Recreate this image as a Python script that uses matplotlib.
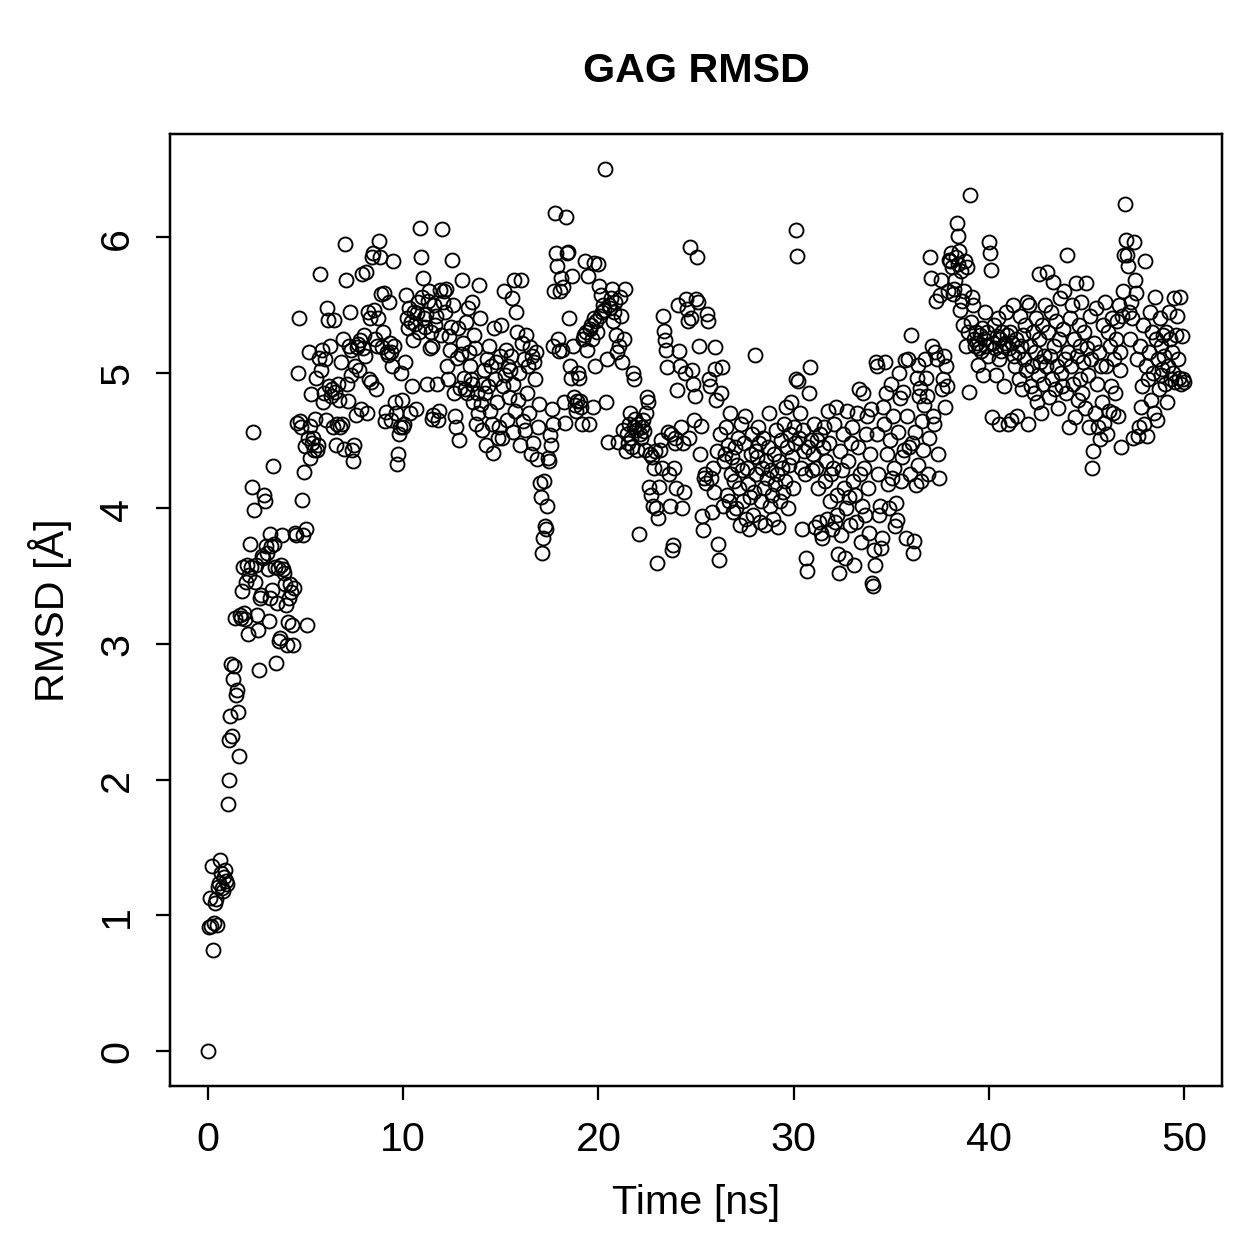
import numpy as np
import matplotlib
matplotlib.use("Agg")
import matplotlib.pyplot as plt

plt.rcParams['font.family'] = ['Liberation Sans', 'DejaVu Sans']

# RMSD values, 20 frames per ns (0.05 ns steps), one row per ns
rmsd_rows = [
    [0.00, 0.91, 1.13, 0.92, 1.36, 0.74, 0.94, 1.09, 1.12, 0.93, 1.21, 1.24, 1.41, 1.31, 1.20, 1.18, 1.28, 1.33, 1.25, 1.23],
    [1.82, 2.00, 2.29, 2.47, 2.85, 2.32, 2.74, 2.84, 3.19, 2.62, 2.66, 2.50, 2.17, 3.21, 3.19, 3.39, 3.57, 3.23, 3.18, 3.46],
    [3.58, 3.07, 3.51, 3.74, 3.57, 4.16, 4.56, 3.99, 3.46, 3.58, 3.21, 3.10, 2.81, 3.34, 3.36, 3.65, 3.63, 4.10, 4.05, 3.72],
    [3.67, 3.55, 3.17, 3.34, 3.81, 3.72, 3.40, 4.31, 3.74, 3.57, 2.86, 3.30, 3.56, 3.02, 3.04, 3.58, 3.80, 3.55, 3.52, 3.44],
    [3.29, 2.99, 3.16, 3.34, 3.44, 3.38, 3.14, 2.99, 3.41, 3.82, 3.80, 4.63, 5.00, 5.40, 4.64, 4.60, 4.06, 3.80, 4.27, 4.46],
    [3.85, 3.14, 4.52, 5.15, 4.37, 4.61, 4.84, 4.48, 4.52, 4.43, 4.66, 4.96, 4.43, 4.47, 5.11, 5.73, 5.02, 5.17, 4.78, 4.85],
    [5.10, 4.65, 5.48, 5.39, 4.90, 5.20, 4.83, 4.88, 4.60, 5.39, 4.86, 4.47, 4.62, 4.92, 4.80, 4.60, 5.08, 4.62, 5.25, 4.44],
    [5.95, 5.68, 4.92, 4.79, 5.20, 5.45, 4.98, 5.17, 4.43, 4.35, 4.47, 5.05, 4.69, 5.19, 5.21, 5.02, 5.24, 4.73, 5.73, 5.18],
    [5.28, 5.12, 5.74, 4.70, 5.45, 4.95, 5.40, 4.93, 5.85, 5.88, 5.46, 5.25, 4.88, 5.20, 5.40, 5.97, 5.85, 5.58, 5.19, 5.30],
    [5.59, 4.64, 4.71, 5.15, 5.13, 5.52, 5.22, 4.65, 5.15, 5.05, 5.82, 5.20, 4.78, 4.70, 4.33, 4.40, 4.55, 4.60, 5.00, 4.80],
    [4.60, 4.62, 5.08, 5.57, 5.40, 5.33, 5.48, 4.70, 5.37, 4.90, 5.24, 5.45, 5.36, 4.73, 5.44, 5.52, 5.30, 6.07, 5.85, 5.56],
    [5.70, 5.40, 5.34, 5.43, 4.92, 5.53, 5.60, 5.18, 5.30, 5.20, 4.66, 4.69, 5.50, 5.35, 5.42, 4.92, 4.65, 4.72, 5.61, 5.28],
    [6.06, 5.52, 5.60, 5.45, 5.62, 5.05, 4.95, 5.27, 5.17, 5.34, 5.83, 5.50, 4.85, 4.68, 4.60, 5.11, 5.33, 4.50, 4.89, 5.14],
    [5.68, 5.22, 4.96, 4.88, 5.37, 4.85, 5.48, 5.15, 5.05, 4.95, 5.52, 4.92, 4.78, 5.28, 5.18, 4.62, 4.85, 4.70, 5.65, 5.40],
    [4.77, 4.58, 4.92, 5.02, 4.85, 4.47, 5.10, 4.90, 5.20, 4.72, 5.05, 4.62, 4.41, 5.33, 4.95, 5.08, 4.78, 4.52, 4.60, 5.12],
    [5.35, 4.52, 4.90, 5.60, 4.98, 5.17, 4.65, 5.05, 4.82, 5.02, 5.12, 5.55, 4.56, 4.92, 5.68, 4.72, 5.45, 5.30, 4.80, 5.00],
    [4.47, 5.68, 5.22, 4.64, 5.10, 4.58, 5.28, 4.85, 5.05, 4.70, 5.19, 4.40, 5.12, 4.48, 5.08, 4.95, 5.15, 4.36, 4.60, 4.77],
    [4.19, 4.08, 3.67, 3.78, 4.20, 3.87, 3.85, 4.02, 4.37, 4.35, 4.54, 4.47, 4.73, 4.62, 5.20, 5.60, 6.18, 5.88, 5.79, 5.25],
    [5.16, 5.60, 5.70, 5.17, 5.63, 4.78, 4.63, 6.15, 5.88, 5.89, 5.40, 5.05, 4.96, 5.71, 5.20, 4.82, 4.76, 4.72, 4.79, 5.00],
    [4.96, 4.79, 4.75, 4.62, 5.25, 5.28, 5.82, 5.30, 5.17, 5.71, 4.62, 5.32, 5.35, 5.25, 4.75, 5.81, 5.40, 5.05, 5.38, 5.30],
    [5.80, 5.64, 5.42, 5.57, 5.45, 5.50, 5.46, 6.50, 4.78, 5.10, 4.49, 5.50, 5.48, 5.55, 5.62, 5.38, 5.45, 5.52, 5.28, 5.15],
    [4.49, 5.20, 5.56, 5.42, 5.08, 4.58, 5.25, 5.62, 4.42, 4.55, 4.48, 4.62, 4.70, 4.52, 4.45, 5.00, 4.95, 4.60, 4.66, 4.58],
    [4.43, 4.62, 3.81, 4.55, 4.52, 4.60, 4.65, 4.57, 4.43, 4.70, 4.82, 4.78, 4.16, 4.40, 4.10, 4.38, 4.02, 4.30, 4.42, 4.00],
    [3.60, 3.93, 4.16, 4.43, 4.50, 4.30, 5.42, 5.31, 5.24, 5.17, 5.04, 4.56, 4.25, 4.02, 4.55, 3.69, 3.73, 4.30, 4.48, 4.52],
    [4.15, 4.87, 5.50, 5.16, 5.05, 4.60, 4.00, 4.48, 4.12, 5.00, 5.54, 5.47, 5.38, 4.52, 5.93, 5.40, 5.02, 4.92, 4.65, 4.83],
    [5.54, 5.85, 5.52, 5.20, 4.40, 4.61, 3.94, 3.84, 4.22, 4.25, 4.19, 5.43, 5.38, 4.95, 4.90, 4.22, 3.97, 4.30, 4.12, 5.19],
    [5.03, 4.80, 4.42, 3.74, 3.62, 4.55, 4.85, 5.04, 4.02, 4.35, 4.40, 4.60, 4.10, 4.47, 4.05, 4.70, 4.25, 4.38, 3.97, 4.20],
    [4.45, 4.00, 4.32, 4.52, 4.15, 3.88, 4.62, 4.28, 4.05, 4.48, 4.68, 3.92, 4.30, 4.18, 3.85, 4.08, 4.40, 4.55, 3.95, 4.12],
    [5.13, 4.42, 4.25, 4.38, 4.60, 4.48, 3.90, 4.05, 4.30, 4.52, 4.15, 3.88, 4.35, 4.22, 4.45, 4.70, 4.02, 4.28, 4.10, 3.92],
    [4.40, 4.18, 4.58, 4.25, 3.86, 4.35, 4.05, 4.50, 4.30, 4.12, 4.62, 4.20, 4.75, 4.45, 4.00, 4.32, 4.55, 4.78, 4.38, 4.15],
    [4.60, 4.48, 4.95, 6.05, 5.86, 4.94, 4.52, 4.70, 4.30, 3.85, 4.58, 4.42, 4.25, 3.63, 3.54, 4.45, 4.85, 5.04, 4.50, 4.28],
    [4.40, 4.62, 3.86, 4.30, 4.50, 4.15, 3.90, 4.55, 3.82, 3.78, 4.45, 4.60, 4.20, 4.35, 3.92, 4.72, 4.48, 4.05, 4.25, 3.85],
    [4.30, 4.62, 3.90, 4.75, 4.10, 3.95, 3.66, 3.52, 4.42, 3.80, 4.28, 4.55, 4.15, 3.63, 4.00, 4.72, 4.35, 4.08, 3.88, 4.48],
    [4.60, 4.20, 3.58, 4.10, 3.90, 4.70, 4.45, 4.88, 4.25, 3.75, 4.02, 4.85, 4.30, 3.95, 4.55, 4.68, 4.15, 3.82, 4.40, 4.73],
    [3.45, 3.43, 3.69, 3.58, 5.08, 5.05, 4.55, 4.25, 3.95, 4.02, 3.71, 3.78, 4.75, 4.62, 5.08, 4.85, 4.40, 4.18, 4.00, 4.50],
    [4.92, 4.22, 4.68, 4.30, 3.87, 4.04, 3.91, 4.56, 5.00, 4.81, 4.20, 4.38, 4.86, 4.43, 5.09, 3.78, 4.68, 5.10, 4.45, 4.25],
    [5.28, 4.48, 3.67, 3.76, 4.56, 4.17, 4.96, 5.06, 4.32, 4.83, 4.89, 4.20, 4.64, 4.43, 4.76, 5.10, 4.96, 4.83, 4.25, 4.52],
    [5.85, 5.70, 5.20, 4.68, 4.62, 5.15, 5.53, 5.10, 4.40, 4.22, 5.57, 5.68, 4.88, 4.95, 5.12, 4.75, 5.05, 4.90, 5.60, 5.83],
    [5.82, 5.88, 5.78, 5.58, 5.62, 5.68, 5.85, 6.10, 5.80, 6.01, 5.90, 5.46, 5.75, 5.53, 5.35, 5.60, 5.82, 5.20, 5.78, 5.30],
    [4.86, 6.31, 5.37, 5.56, 5.50, 5.25, 5.20, 5.30, 5.22, 5.06, 5.18, 5.28, 5.16, 5.33, 4.98, 5.25, 5.45, 5.20, 5.30, 5.12],
    [5.96, 5.88, 5.76, 4.67, 5.22, 5.35, 5.18, 4.98, 5.27, 5.40, 5.10, 4.62, 5.25, 5.16, 5.30, 5.20, 4.90, 5.22, 5.45, 5.28],
    [4.62, 5.18, 5.30, 4.65, 5.22, 5.50, 5.12, 5.05, 5.25, 4.68, 5.15, 4.95, 5.42, 5.20, 4.88, 5.28, 5.10, 5.35, 5.02, 5.52],
    [4.62, 5.50, 5.20, 4.90, 5.05, 5.30, 4.85, 5.15, 5.40, 4.78, 4.98, 5.73, 5.25, 5.08, 4.70, 5.35, 4.92, 5.12, 5.50, 5.05],
    [5.74, 5.30, 4.82, 5.12, 5.45, 4.95, 5.67, 5.20, 4.88, 5.38, 5.05, 4.74, 5.25, 5.55, 5.00, 4.90, 5.32, 5.60, 5.10, 4.85],
    [5.87, 5.15, 4.60, 5.40, 5.05, 5.50, 4.92, 5.25, 4.67, 5.66, 5.12, 4.80, 5.35, 4.95, 5.20, 5.52, 4.85, 5.08, 5.30, 4.74],
    [5.66, 5.18, 4.98, 4.60, 5.42, 5.10, 4.30, 4.42, 5.22, 4.70, 5.48, 4.92, 4.60, 5.15, 4.51, 5.05, 4.78, 5.35, 4.63, 5.52],
    [5.05, 4.55, 5.30, 4.72, 5.20, 4.90, 5.40, 4.70, 5.10, 4.85, 5.25, 5.38, 4.68, 5.50, 5.02, 5.15, 4.45, 5.42, 5.60, 5.87],
    [6.24, 5.98, 5.87, 5.79, 5.45, 5.25, 5.52, 5.40, 4.52, 5.96, 5.68, 5.59, 5.10, 4.53, 4.60, 5.20, 4.75, 4.90, 5.35, 4.62],
    [5.82, 5.05, 4.53, 4.95, 5.15, 5.45, 4.80, 5.30, 5.00, 4.70, 5.56, 5.25, 4.65, 5.10, 4.88, 5.40, 5.20, 4.98, 5.03, 5.28],
    [5.12, 4.92, 5.30, 4.78, 5.05, 5.45, 5.25, 4.95, 5.15, 5.00, 5.55, 4.93, 5.28, 5.42, 5.10, 4.96, 5.56, 4.92, 5.27, 4.95],
]
rmsd_last = [4.93]

rmsd = np.array([v for row in rmsd_rows for v in row] + rmsd_last)
time_ns = np.arange(len(rmsd)) * 0.05

x_ticks = [0, 10, 20, 30, 40, 50]
y_ticks = [0, 1, 2, 3, 4, 5, 6]

fig = plt.figure(figsize=(7, 7), dpi=179.857)
ax = fig.add_axes([0.135, 0.1366, 0.8356, 0.7562])

ax.plot(time_ns, rmsd, linestyle='none', marker='o', markersize=5.6,
        markerfacecolor='none', markeredgecolor='black', markeredgewidth=0.75)

ax.set_xlim(-1.95, 51.95)
ax.set_ylim(-0.26, 6.76)
ax.set_xticks(x_ticks)
ax.set_yticks(y_ticks)
ax.tick_params(direction='out', length=5.6, width=0.9, labelsize=16.5, pad=8)
for lbl in ax.get_yticklabels():
    lbl.set_rotation(90)
    lbl.set_va('center')
for sp in ax.spines.values():
    sp.set_linewidth(1.0)

fig.text(0.553, 0.944, 'GAG RMSD', ha='center', va='center', fontsize=16.5, fontweight='bold')
fig.text(0.553, 0.0445, 'Time [ns]', ha='center', va='center', fontsize=16.5)
fig.text(0.04, 0.515, 'RMSD [Å]', ha='center', va='center', fontsize=16.5, rotation=90)

fig.savefig('out.png', dpi=179.857)
